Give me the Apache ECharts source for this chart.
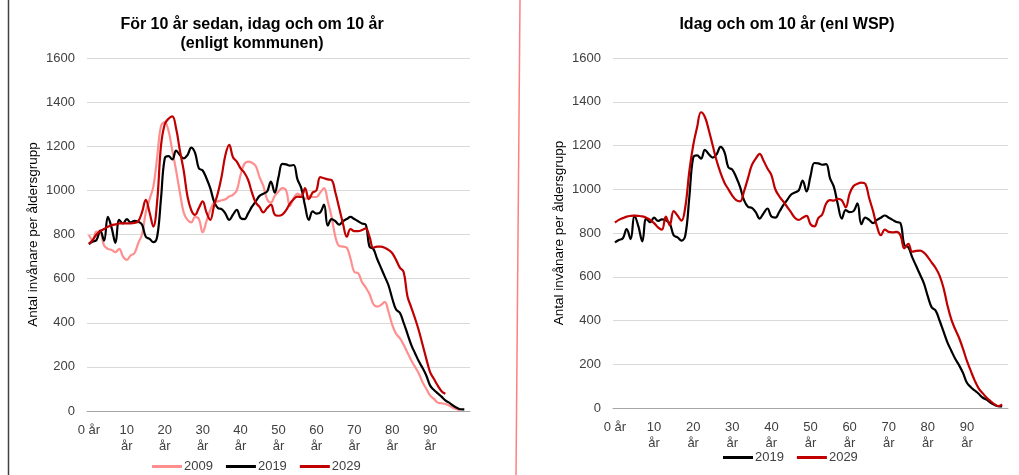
<!DOCTYPE html>
<html>
<head>
<meta charset="utf-8">
<script src="https://cdn.jsdelivr.net/npm/echarts@6/dist/echarts.min.js"></script>
<style>
  html, body { margin: 0; padding: 0; background: #fff; }
  #chart { width: 1019px; height: 475px; }
</style>
</head>
<body>
<div id="chart"></div>
<script>
// åldrar 0..100 (kategoriaxel)
const ages = []
for (let a = 0; a <= 100; a++) ages.push(a)

const yTicks = [0, 200, 400, 600, 800, 1000, 1200, 1400, 1600]

// 2009 (enligt kommunen), ålder 0..98
const kommun2009 = [
  798, 775, 813, 810, 750, 735, 730, 720, 735, 700,
  685, 705, 715, 760, 800, 900, 960, 1017, 1150, 1290,
  1310, 1270, 1180, 1090, 990, 900, 866, 855, 880, 870,
  810, 860, 910, 945, 950, 955, 960, 972, 980, 1000,
  1070, 1120, 1130, 1125, 1110, 1060, 1020, 960, 945, 975,
  995, 1010, 1000, 930, 965, 985, 975, 960, 975, 970,
  970, 990, 1010, 950, 880, 790, 748, 745, 740, 690,
  630, 625, 585, 560, 530, 485, 473, 480, 495, 450,
  390, 350, 330, 300, 265, 230, 200, 170, 130, 100,
  70, 55, 38, 35, 32, 25, 15, 8, 5
]

// 2019 (idag), ålder 0..99
const idag2019 = [
  757, 768, 775, 818, 772, 880, 830, 762, 866, 850,
  870, 855, 862, 858, 845, 790, 780, 765, 790, 960,
  1145, 1155, 1140, 1180, 1160, 1145, 1160, 1194, 1170, 1100,
  1090, 1055, 1010, 950, 920, 915, 895, 866, 890, 912,
  875, 870, 896, 926, 950, 975, 985, 995, 1040, 990,
  1060, 1120, 1118, 1112, 1115, 1050, 1010, 930, 866, 905,
  895, 900, 935, 840, 870, 860, 845, 860, 870, 880,
  870, 860, 850, 845, 745, 735, 690, 650, 610, 570,
  510, 460, 445, 400, 350, 300, 262, 225, 195, 160,
  115, 95, 80, 65, 48, 38, 25, 15, 8, 7
]

// 2029 enligt kommunen, ålder 0..94
const kommun2029 = [
  757, 775, 800, 815, 825, 835, 842, 846, 850, 850,
  850, 850, 852, 860, 900, 957, 900, 836, 950, 1200,
  1300, 1325, 1335, 1280, 1180, 1090, 972, 910, 889, 920,
  950, 900, 866, 930, 987, 1063, 1160, 1206, 1150, 1130,
  1100, 1080, 1047, 990, 945, 925, 900, 920, 935, 890,
  885, 890, 910, 940, 960, 972, 970, 1010, 960, 990,
  1000, 1060, 1055, 1050, 1047, 990, 920, 850, 790, 825,
  815, 815, 820, 828, 790, 740, 745, 745, 740, 730,
  715, 685, 650, 630, 520, 470, 420, 365, 300, 235,
  175, 145, 115, 90, 78
]

// 2029 enligt WSP, ålder 0..99
const wsp2029 = [
  848, 860, 868, 875, 878, 879, 878, 876, 870, 860,
  845, 826, 815, 875, 835, 900, 880, 856, 920, 1080,
  1200, 1283, 1352, 1330, 1270, 1200, 1130, 1075, 1030, 1000,
  971, 950, 945, 990, 1050, 1110, 1140, 1162, 1130, 1095,
  1065, 1000, 968, 945, 920, 895, 870, 860, 870, 878,
  840, 830, 868, 885, 935, 950, 948, 956, 950, 917,
  980, 1015, 1025, 1030, 1025, 960, 900, 830, 790, 815,
  805, 803, 805, 790, 730, 750, 715, 718, 719, 710,
  690, 665, 640, 605, 550, 470, 405, 360, 320, 270,
  215, 169, 125, 90, 68, 48, 32, 18, 9, 17
]

const FONT = 'Liberation Sans, Arial, sans-serif'
const TXT = '#404040'

function xAxisFor (gridIndex) {
  return {
    type: 'category',
    gridIndex: gridIndex,
    data: ages,
    boundaryGap: true,
    axisTick: { show: false },
    axisLine: { lineStyle: { color: '#a6a6a6', width: 1 } },
    axisLabel: {
      interval: (i) => i % 10 === 0 && i < 100,
      formatter: (v) => (v === '0' || v === 0) ? '0 år' : v + '\når',
      color: TXT,
      fontFamily: FONT,
      fontSize: 13,
      lineHeight: 16,
      margin: 11
    }
  }
}

function yAxisFor (gridIndex) {
  return {
    type: 'value',
    gridIndex: gridIndex,
    min: yTicks[0],
    max: yTicks[yTicks.length - 1],
    interval: 200,
    name: 'Antal invånare per åldersgrupp',
    nameLocation: 'middle',
    nameGap: 47,
    nameTextStyle: { color: '#000', fontFamily: FONT, fontSize: 13.5 },
    axisLine: { show: false },
    axisTick: { show: false },
    axisLabel: {
      color: TXT,
      fontFamily: FONT,
      fontSize: 13,
      margin: 12,
      formatter: (v) => String(v)
    },
    splitLine: { lineStyle: { color: '#d9d9d9', width: 1 } }
  }
}

function lineSeries (name, data, color, idx) {
  return {
    name: name,
    type: 'line',
    xAxisIndex: idx,
    yAxisIndex: idx,
    data: data,
    smooth: 0.4,
    showSymbol: false,
    symbol: 'none',
    lineStyle: { color: color, width: 2.2 },
    itemStyle: { color: color }
  }
}

const pink = '#ff8f8f'
const black = '#000000'
const red = '#c00000'

const chart = echarts.init(document.getElementById('chart'))
chart.setOption({
  animation: false,
  backgroundColor: '#fff',
  title: [
    {
      text: 'För 10 år sedan, idag och om 10 år\n(enligt kommunen)',
      left: 247,
      top: 10,
      textAlign: 'center',
      textStyle: { fontFamily: FONT, fontSize: 16, fontWeight: 'bold', color: '#000', lineHeight: 19 }
    },
    {
      text: 'Idag och om 10 år (enl WSP)',
      left: 782,
      top: 10,
      textAlign: 'center',
      textStyle: { fontFamily: FONT, fontSize: 16, fontWeight: 'bold', color: '#000', lineHeight: 19 }
    }
  ],
  legend: [
    {
      data: ['2009', '2019', '2029'],
      left: 147,
      top: 455,
      icon: 'rect',
      itemWidth: 30,
      itemHeight: 3,
      itemGap: 13,
      textStyle: { fontFamily: FONT, fontSize: 13, color: TXT, padding: [0, 0, 0, -3] }
    },
    {
      data: ['2019', '2029'],
      left: 718,
      top: 446,
      icon: 'rect',
      itemWidth: 30,
      itemHeight: 3,
      itemGap: 13,
      textStyle: { fontFamily: FONT, fontSize: 13, color: TXT, padding: [0, 0, 0, -3] }
    }
  ],
  grid: [
    { left: 87, right: 549, top: 58, bottom: 64 },
    { left: 613, right: 11, top: 58, bottom: 67 }
  ],
  xAxis: [xAxisFor(0), xAxisFor(1)],
  yAxis: [yAxisFor(0), yAxisFor(1)],
  series: [
    lineSeries('2009', kommun2009, pink, 0),
    lineSeries('2019', idag2019, black, 0),
    lineSeries('2029', kommun2029, red, 0),
    lineSeries('2019', idag2019, black, 1),
    lineSeries('2029', wsp2029, red, 1)
  ],
  graphic: [
    { type: 'line', shape: { x1: 8.5, y1: 0, x2: 8.5, y2: 475 }, style: { stroke: '#404040', lineWidth: 1.5 } },
    { type: 'line', shape: { x1: 520, y1: 0, x2: 516, y2: 475 }, style: { stroke: '#ff8080', lineWidth: 1.5 } }
  ]
})
</script>
</body>
</html>
